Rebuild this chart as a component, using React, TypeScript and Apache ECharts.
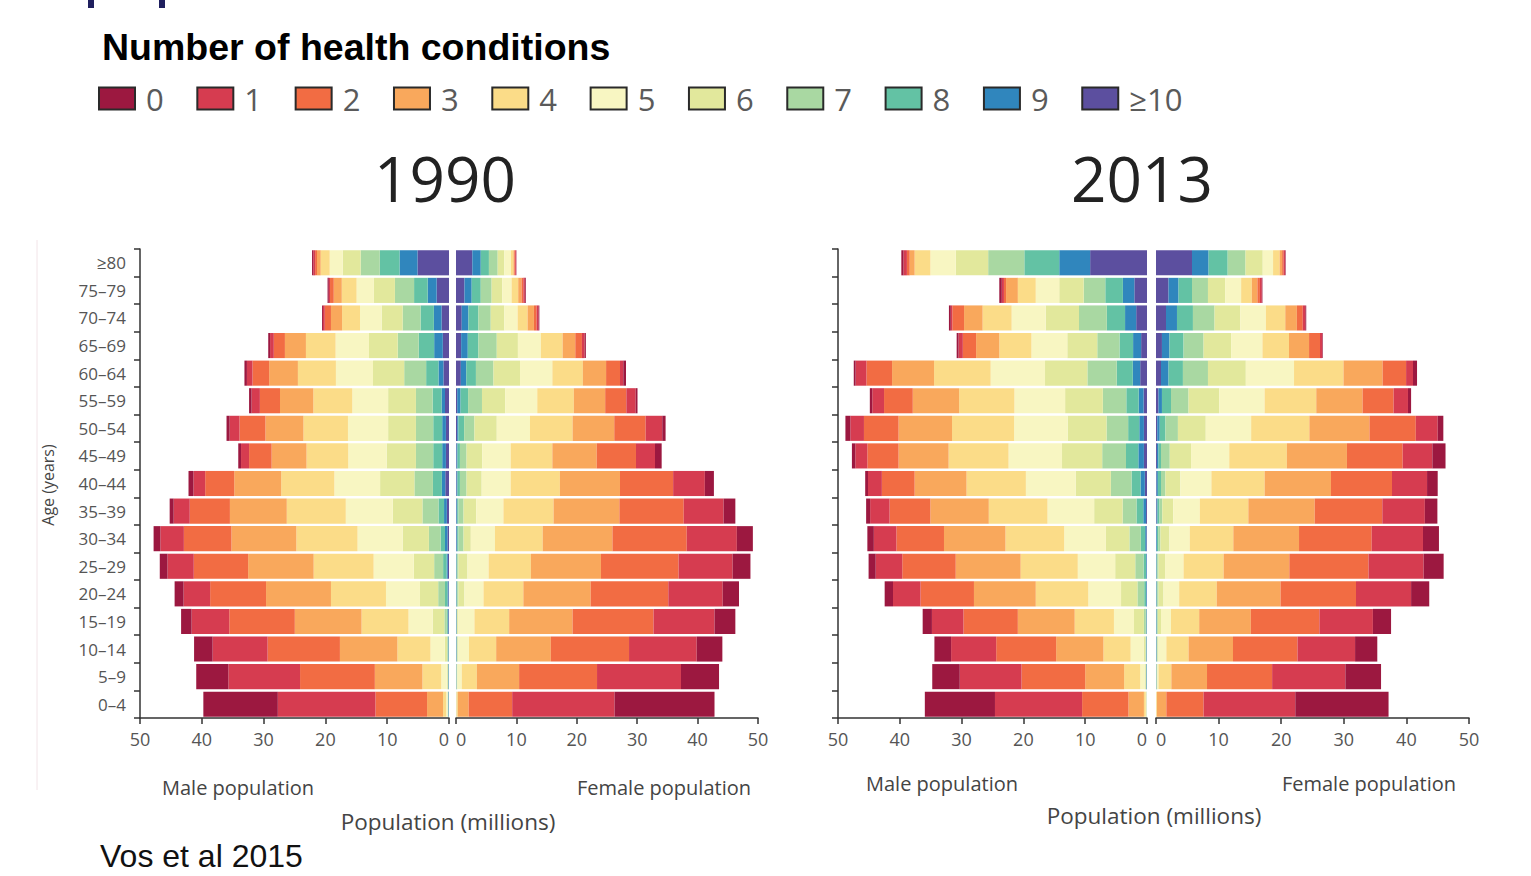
import React, { useEffect, useRef } from "react";
import * as echarts from "echarts";

// Age groups, bottom (youngest) to top (oldest)
const ageGroups = ["0–4", "5–9", "10–14", "15–19", "20–24", "25–29", "30–34", "35–39", "40–44", "45–49", "50–54", "55–59", "60–64", "65–69", "70–74", "75–79", "≥80"];
const conditionLabels = ["0", "1", "2", "3", "4", "5", "6", "7", "8", "9", "≥10"];
const conditionColors = ["#9c1840", "#d63c50", "#f26c43", "#f9a85c", "#fbdc88", "#f8f6c2", "#e2e89c", "#a9d8a2", "#63c2a4", "#3086bd", "#5c4f9f"];

// Population (millions) per age group (rows, same order as ageGroups), split by number of conditions 0..≥10
const male1990 = [
  [12.05, 15.8, 8.35, 2.6, 0.5, 0.2, 0.05, 0.05, 0.05, 0.05, 0.05],
  [5.2, 11.6, 12.1, 7.7, 3.05, 0.9, 0.15, 0.05, 0.05, 0.05, 0.05],
  [3.0, 8.9, 11.7, 9.3, 5.35, 2.3, 0.4, 0.1, 0.1, 0.05, 0.05],
  [1.7, 6.1, 10.6, 10.8, 7.6, 3.9, 1.9, 0.4, 0.15, 0.1, 0.1],
  [1.45, 4.3, 9.05, 10.5, 8.9, 5.5, 2.95, 1.1, 0.4, 0.15, 0.1],
  [1.25, 4.25, 8.8, 10.6, 9.7, 6.5, 3.3, 1.45, 0.55, 0.2, 0.2],
  [1.1, 3.8, 7.7, 10.5, 9.9, 7.3, 4.25, 1.9, 0.7, 0.4, 0.25],
  [0.65, 2.6, 6.5, 9.2, 9.55, 7.6, 4.8, 2.6, 0.9, 0.45, 0.35],
  [0.8, 1.9, 4.7, 7.6, 8.6, 7.4, 5.55, 3.0, 1.45, 0.55, 0.6],
  [0.45, 1.3, 3.65, 5.65, 6.75, 6.2, 4.75, 2.8, 1.45, 0.6, 0.5],
  [0.5, 1.6, 4.2, 6.15, 7.2, 6.5, 4.5, 2.8, 1.45, 0.6, 0.5],
  [0.4, 1.35, 3.25, 5.4, 6.3, 5.8, 4.5, 2.7, 1.45, 0.55, 0.65],
  [0.4, 0.9, 2.7, 4.65, 6.15, 6.0, 5.05, 3.55, 2.0, 0.8, 0.9],
  [0.3, 0.6, 1.8, 3.4, 4.8, 5.4, 4.65, 3.4, 2.5, 1.4, 1.0],
  [0.15, 0.3, 1.0, 1.8, 2.9, 3.5, 3.4, 2.9, 2.15, 1.25, 1.2],
  [0.2, 0.2, 0.6, 1.3, 2.4, 2.8, 3.4, 3.1, 2.2, 1.45, 2.0],
  [0.2, 0.3, 0.3, 0.6, 1.46, 2.1, 2.9, 3.1, 3.2, 2.9, 5.1],
];

const female1990 = [
  [16.55, 16.95, 7.2, 1.8, 0.2, 0.04, 0.02, 0.01, 0.01, 0.01, 0.01],
  [6.3, 13.9, 12.9, 7.0, 2.5, 0.7, 0.1, 0.05, 0.04, 0.03, 0.03],
  [4.25, 11.2, 12.95, 9.05, 4.5, 1.75, 0.15, 0.1, 0.05, 0.05, 0.05],
  [3.45, 10.1, 13.4, 10.5, 5.75, 2.65, 0.2, 0.05, 0.05, 0.05, 0.05],
  [2.7, 9.0, 12.85, 11.15, 6.6, 3.15, 1.0, 0.2, 0.1, 0.05, 0.05],
  [2.95, 8.95, 12.85, 11.6, 7.0, 3.5, 1.5, 0.2, 0.1, 0.05, 0.05],
  [2.65, 8.3, 12.3, 11.55, 7.9, 4.0, 1.2, 0.85, 0.2, 0.12, 0.08],
  [1.95, 6.6, 10.65, 10.9, 8.3, 4.5, 2.1, 0.85, 0.2, 0.12, 0.08],
  [1.5, 5.25, 8.8, 9.95, 8.15, 4.8, 2.5, 1.1, 0.4, 0.15, 0.1],
  [1.1, 3.15, 6.5, 7.35, 6.9, 4.7, 2.6, 1.1, 0.4, 0.15, 0.1],
  [0.55, 2.75, 5.2, 6.9, 7.05, 5.5, 3.7, 1.7, 0.95, 0.2, 0.2],
  [0.3, 1.55, 3.5, 5.2, 6.05, 5.3, 3.85, 2.3, 1.25, 0.55, 0.2],
  [0.45, 0.55, 2.3, 3.85, 5.05, 5.35, 4.4, 2.9, 1.6, 0.9, 0.8],
  [0.2, 0.45, 1.1, 2.1, 3.6, 3.8, 3.5, 3.05, 1.75, 1.1, 0.85],
  [0.15, 0.3, 0.45, 1.05, 1.65, 2.2, 2.25, 2.05, 1.65, 1.1, 0.95],
  [0.15, 0.25, 0.3, 0.55, 1.1, 1.55, 1.75, 1.8, 1.5, 1.2, 1.4],
  [0.05, 0.15, 0.15, 0.15, 0.4, 1.1, 1.1, 1.45, 1.35, 1.4, 2.7],
];

const male2013 = [
  [11.35, 14.1, 7.5, 2.5, 0.3, 0.1, 0.04, 0.02, 0.02, 0.01, 0.01],
  [4.45, 10.0, 10.3, 6.3, 2.6, 0.7, 0.2, 0.05, 0.05, 0.05, 0.05],
  [2.7, 7.3, 9.7, 7.65, 4.4, 2.1, 0.3, 0.1, 0.05, 0.05, 0.05],
  [1.5, 5.1, 8.8, 9.2, 6.35, 3.25, 1.6, 0.3, 0.1, 0.05, 0.05],
  [1.35, 4.45, 8.65, 10.0, 8.5, 5.3, 2.65, 1.1, 0.3, 0.1, 0.05],
  [1.15, 4.3, 8.65, 10.5, 9.25, 6.05, 3.25, 1.35, 0.4, 0.1, 0.05],
  [1.05, 3.65, 7.7, 9.95, 9.5, 6.75, 3.8, 1.85, 0.7, 0.2, 0.1],
  [0.65, 3.15, 6.6, 9.45, 9.5, 7.55, 4.6, 2.25, 1.1, 0.45, 0.15],
  [0.45, 2.25, 5.3, 8.4, 9.6, 8.05, 5.7, 3.35, 1.45, 0.7, 0.35],
  [0.55, 1.95, 5.05, 8.1, 9.7, 8.65, 6.5, 3.85, 2.0, 0.9, 0.5],
  [0.8, 2.2, 5.6, 8.65, 10.05, 8.65, 6.3, 3.5, 1.8, 0.75, 0.5],
  [0.4, 1.9, 4.65, 7.5, 8.95, 8.2, 6.1, 3.8, 2.0, 0.8, 0.55],
  [0.3, 1.75, 4.15, 6.8, 9.15, 8.8, 6.85, 4.75, 2.6, 1.2, 1.1],
  [0.3, 0.7, 2.15, 3.75, 5.2, 5.8, 4.85, 3.6, 2.2, 1.3, 0.95],
  [0.3, 0.25, 1.9, 3.0, 4.7, 5.5, 5.4, 4.5, 2.95, 1.8, 1.75],
  [0.4, 0.35, 0.35, 1.9, 2.9, 3.8, 3.95, 3.5, 2.85, 1.85, 2.05],
  [0.35, 0.55, 0.45, 0.8, 2.55, 4.1, 5.25, 5.85, 5.65, 5.0, 9.2],
];

const female2013 = [
  [14.9, 14.65, 5.95, 1.5, 0.1, 0.02, 0.01, 0.01, 0.01, 0.0, 0.0],
  [5.7, 11.7, 10.4, 5.7, 2.05, 0.15, 0.1, 0.05, 0.04, 0.03, 0.03],
  [3.55, 9.2, 10.3, 7.1, 3.55, 1.25, 0.15, 0.1, 0.05, 0.05, 0.05],
  [2.9, 8.55, 10.95, 8.25, 4.5, 1.6, 0.5, 0.12, 0.08, 0.05, 0.05],
  [2.9, 8.8, 12.05, 10.2, 6.0, 2.5, 0.8, 0.2, 0.1, 0.05, 0.05],
  [3.2, 8.8, 12.65, 10.5, 6.4, 2.95, 1.05, 0.2, 0.1, 0.05, 0.05],
  [2.55, 8.2, 11.6, 10.5, 6.95, 3.25, 1.45, 0.35, 0.2, 0.1, 0.05],
  [2.0, 6.8, 10.8, 10.6, 7.75, 4.25, 1.75, 0.45, 0.3, 0.15, 0.1],
  [1.7, 5.6, 9.75, 10.6, 8.5, 4.95, 2.4, 0.7, 0.5, 0.2, 0.1],
  [2.1, 4.75, 8.9, 9.6, 9.2, 6.1, 3.4, 1.4, 0.4, 0.25, 0.15],
  [0.9, 3.5, 7.4, 9.6, 9.3, 7.25, 4.45, 2.0, 0.9, 0.4, 0.2],
  [0.5, 2.3, 4.95, 7.4, 8.25, 7.25, 4.9, 2.8, 1.45, 0.55, 0.4],
  [0.65, 1.1, 3.75, 6.25, 7.9, 7.7, 6.05, 4.0, 2.3, 1.2, 0.8],
  [0.1, 0.35, 1.75, 3.2, 4.25, 5.0, 4.4, 3.2, 2.25, 1.2, 0.95],
  [0.15, 0.4, 0.95, 1.85, 3.1, 4.1, 4.1, 3.45, 2.55, 1.75, 1.6],
  [0.1, 0.3, 0.4, 0.9, 1.7, 2.55, 2.75, 2.55, 2.15, 1.6, 2.0],
  [0.1, 0.2, 0.25, 0.4, 1.05, 1.65, 2.75, 2.85, 3.05, 2.65, 5.75],
];

const AXIS_FONT = "'Open Sans', 'DejaVu Sans', sans-serif";
const GRAY = "#555";

function panelSeries(rows: number[][], idx: number, stack: string) {
  const out: any[] = [];
  for (let k = conditionLabels.length - 1; k >= 0; k--) {
    out.push({
      type: "bar",
      name: conditionLabels[k],
      stack,
      xAxisIndex: idx,
      yAxisIndex: idx,
      barCategoryGap: "9%",
      itemStyle: { color: conditionColors[k] },
      emphasis: { disabled: true },
      silent: true,
      data: rows.map((r) => r[k]),
    });
  }
  return out;
}

function xAxisFor(idx: number, inverse: boolean) {
  return {
    type: "value",
    gridIndex: idx,
    min: 0,
    max: 50,
    interval: 10,
    inverse,
    splitLine: { show: false },
    axisLine: { show: true, lineStyle: { color: "#333", width: 1.5 } },
    axisTick: { show: true, length: 6, lineStyle: { color: "#333", width: 1.5 } },
    axisLabel: {
      show: true,
      margin: 12,
      fontSize: 18,
      color: GRAY,
      fontFamily: AXIS_FONT,
      alignMinLabel: inverse ? "right" : "left",
    },
  };
}

function yAxisFor(idx: number, showAxis: boolean, showLabels: boolean) {
  return {
    type: "category",
    gridIndex: idx,
    data: ageGroups,
    show: showAxis,
    position: "left",
    axisLine: { show: true, onZero: false, lineStyle: { color: "#333", width: 1.5 } },
    axisTick: { show: true, length: 6, lineStyle: { color: "#333", width: 1.5 } },
    axisLabel: { show: showLabels, margin: 14, fontSize: 17, color: GRAY, fontFamily: AXIS_FONT },
    splitLine: { show: false },
  };
}

export default function App() {
  const ref = useRef<HTMLDivElement>(null);
  useEffect(() => {
    if (!ref.current) return;
    const chart = echarts.init(ref.current, undefined, { renderer: "svg" });
    const top = 249;
    const height = 469;
    const gridBase = { top, height, containLabel: false, outerBoundsMode: "none" };
    const txt = (text: string, x: number, y: number, size: number, opts: any = {}) => ({
      type: "text",
      x,
      y,
      silent: true,
      style: {
        text,
        fontSize: size,
        fontFamily: opts.family || AXIS_FONT,
        fontWeight: opts.weight || "normal",
        fill: opts.fill || "#444",
        textAlign: opts.align || "left",
        textVerticalAlign: "middle",
      },
      rotation: opts.rotation || 0,
    });
    chart.setOption({
      animation: false,
      backgroundColor: "#ffffff",
      title: {
        text: "Number of health conditions",
        left: 102,
        top: 28,
        padding: 0,
        textStyle: { fontFamily: "'Liberation Sans', Arial, sans-serif", fontWeight: "bold", fontSize: 37.5, color: "#000" },
      },
      legend: {
        data: conditionLabels,
        left: 98,
        top: 83,
        padding: 0,
        orient: "horizontal",
        icon: "rect",
        itemWidth: 36,
        itemHeight: 22,
        itemGap: 32.6,
        selectedMode: false,
        itemStyle: { borderColor: "#2a2a2a", borderWidth: 2 },
        textStyle: { fontFamily: AXIS_FONT, fontSize: 31, color: "#5a5a5a", padding: [10, 0, 0, 6] },
      },
      grid: [
        { ...gridBase, left: 140, width: 309 },
        { ...gridBase, left: 456, width: 302 },
        { ...gridBase, left: 838, width: 309 },
        { ...gridBase, left: 1156, width: 313 },
      ],
      xAxis: [xAxisFor(0, true), xAxisFor(1, false), xAxisFor(2, true), xAxisFor(3, false)],
      yAxis: [yAxisFor(0, true, true), yAxisFor(1, false, false), yAxisFor(2, true, false), yAxisFor(3, false, false)],
      series: [
        ...panelSeries(male1990, 0, "m1990"),
        ...panelSeries(female1990, 1, "f1990"),
        ...panelSeries(male2013, 2, "m2013"),
        ...panelSeries(female2013, 3, "f2013"),
      ],
      graphic: [
        { type: "rect", silent: true, shape: { x: 88, y: 0, width: 6, height: 8 }, style: { fill: "#1f1f5e" } },
        { type: "rect", silent: true, shape: { x: 159, y: 0, width: 6, height: 8 }, style: { fill: "#1f1f5e" } },
        { type: "line", silent: true, shape: { x1: 37, y1: 240, x2: 37, y2: 790 }, style: { stroke: "#f2e4e8", lineWidth: 1 } },
        txt("1990", 445, 178, 62, { fill: "#222", align: "center" }),
        txt("2013", 1142, 178, 62, { fill: "#222", align: "center" }),
        txt("Age (years)", 48, 485, 16, { rotation: Math.PI / 2, align: "center" }),
        txt("Male population", 162, 787, 20),
        txt("Female population", 751, 787, 20, { align: "right" }),
        txt("Population (millions)", 448, 821, 22.5, { align: "center" }),
        txt("Male population", 866, 783, 20),
        txt("Female population", 1456, 783, 20, { align: "right" }),
        txt("Population (millions)", 1154, 815, 22.5, { align: "center" }),
        txt("Vos et al 2015", 100, 856, 32, { family: "'Liberation Sans', Arial, sans-serif", fill: "#111" }),
      ],
    });
    return () => chart.dispose();
  }, []);
  return (
    <div
      ref={ref}
      style={{ position: "fixed", left: 0, top: 0, width: 1531, height: 876, background: "#fff" }}
    />
  );
}
